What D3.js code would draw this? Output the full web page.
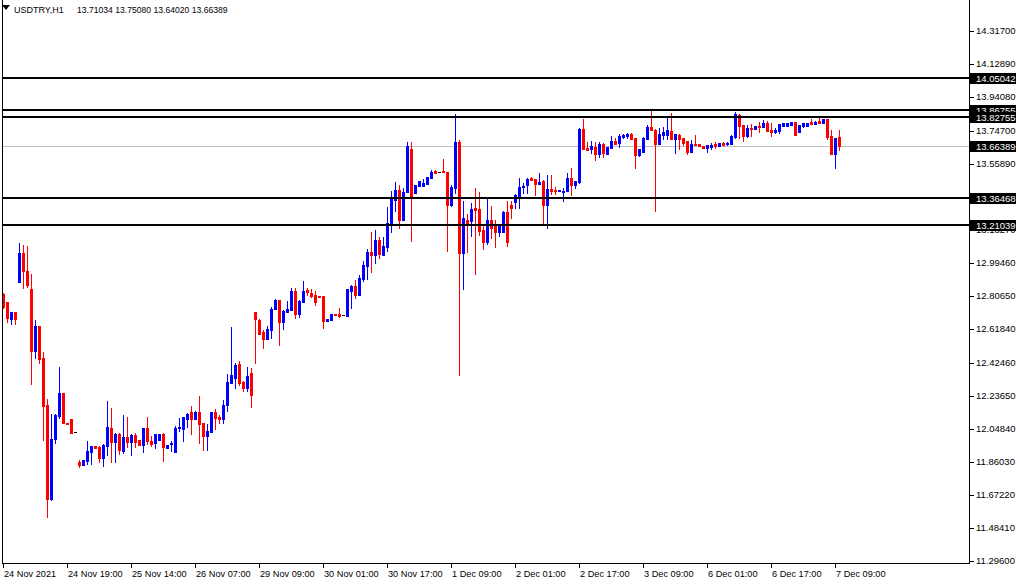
<!DOCTYPE html>
<html><head><meta charset="utf-8">
<script src="https://cdn.jsdelivr.net/npm/d3@7"></script>
<style>
html,body{margin:0;padding:0;background:#fff;overflow:hidden}
svg{display:block}
text{font-family:"Liberation Sans",Arial,sans-serif;font-size:9.5px;fill:#000}
</style></head>
<body>
<svg id="c" width="1020" height="584"></svg>
<script>
const symbolTitle = "USDTRY,H1";
const titleValues = "13.71034 13.75080 13.64020 13.66389";
const opens = [12.818,12.773,12.674,12.716,12.888,13.052,12.951,12.845,12.495,12.636,12.453,12.186,11.651,11.990,12.125,12.254,12.085,12.106,12.032,11.861,
11.844,11.868,11.918,11.952,11.946,11.883,11.952,12.054,11.975,12.020,11.923,12.003,11.975,12.015,11.986,11.958,12.054,11.980,11.969,11.986,
12.020,11.940,11.963,11.918,12.054,12.049,12.106,12.146,12.106,12.146,12.083,12.009,12.032,12.146,12.117,12.106,12.186,12.311,12.339,12.419,
12.317,12.282,12.368,12.716,12.670,12.602,12.562,12.613,12.733,12.784,12.659,12.716,12.727,12.835,12.704,12.773,12.841,12.824,12.813,12.807,
12.807,12.664,12.670,12.704,12.704,12.698,12.693,12.835,12.864,12.813,12.904,12.978,13.058,13.041,13.126,13.041,13.086,13.217,13.354,13.411,
13.240,13.400,13.645,13.394,13.434,13.434,13.445,13.479,13.519,13.514,13.517,13.514,13.326,13.422,13.685,13.052,13.240,13.234,13.308,13.303,
13.183,13.115,13.240,13.217,13.172,13.172,13.286,13.326,13.343,13.377,13.428,13.440,13.479,13.474,13.445,13.462,13.326,13.417,13.411,13.405,
13.401,13.407,13.479,13.441,13.457,13.759,13.650,13.645,13.656,13.616,13.673,13.616,13.650,13.690,13.679,13.713,13.719,13.730,13.707,13.610,
13.628,13.702,13.770,13.753,13.673,13.724,13.724,13.747,13.702,13.724,13.707,13.690,13.628,13.673,13.673,13.662,13.650,13.656,13.673,13.662,
13.679,13.673,13.673,13.713,13.839,13.782,13.719,13.764,13.759,13.776,13.770,13.793,13.753,13.742,13.747,13.776,13.776,13.782,13.799,13.742,
13.776,13.776,13.799,13.787,13.804,13.793,13.816,13.719,13.616,13.71034];
const highs = [12.824,12.773,12.716,12.716,13.107,13.098,13.092,12.932,12.670,12.636,12.488,12.218,12.133,12.134,12.402,12.254,12.085,12.106,12.032,11.872,
11.872,11.980,11.952,11.952,11.952,11.963,12.208,12.170,12.026,12.026,12.129,12.117,12.020,12.026,11.986,12.054,12.117,12.009,12.020,12.020,
12.026,11.958,11.980,12.066,12.111,12.117,12.140,12.180,12.151,12.237,12.083,12.077,12.146,12.163,12.129,12.214,12.362,12.630,12.425,12.436,
12.322,12.402,12.396,12.716,12.676,12.613,12.636,12.744,12.790,12.784,12.727,12.778,12.852,12.852,12.784,12.892,12.852,12.847,12.835,12.807,
12.807,12.676,12.704,12.704,12.738,12.698,12.847,12.870,12.898,12.927,13.006,13.075,13.172,13.183,13.143,13.143,13.314,13.405,13.457,13.440,
13.422,13.685,13.685,13.440,13.462,13.474,13.485,13.525,13.525,13.514,13.588,13.514,13.440,13.844,13.696,13.348,13.274,13.337,13.422,13.400,
13.217,13.360,13.320,13.240,13.212,13.291,13.348,13.348,13.388,13.479,13.451,13.479,13.485,13.474,13.508,13.468,13.497,13.497,13.428,13.411,
13.422,13.508,13.536,13.462,13.764,13.816,13.685,13.690,13.685,13.685,13.679,13.656,13.719,13.707,13.730,13.730,13.736,13.736,13.707,13.645,
13.713,13.782,13.861,13.759,13.764,13.770,13.821,13.850,13.730,13.730,13.707,13.690,13.696,13.724,13.673,13.662,13.668,13.679,13.685,13.679,
13.685,13.685,13.724,13.856,13.844,13.782,13.782,13.787,13.776,13.799,13.810,13.804,13.793,13.764,13.787,13.793,13.793,13.799,13.799,13.782,
13.793,13.793,13.816,13.804,13.821,13.816,13.816,13.753,13.707,13.75080];
const lows = [12.738,12.660,12.649,12.649,12.888,12.854,12.860,12.305,12.455,12.423,11.986,11.549,11.645,11.971,12.113,12.085,12.079,12.028,12.032,11.834,
11.844,11.849,11.849,11.940,11.862,11.838,11.901,11.861,11.861,11.906,11.912,11.948,11.901,11.946,11.958,11.918,11.963,11.952,11.940,11.986,
11.866,11.940,11.923,11.918,12.037,11.980,12.060,12.020,12.106,11.969,11.929,11.929,12.032,12.049,12.083,12.083,12.151,12.311,12.282,12.300,
12.265,12.265,12.174,12.425,12.590,12.510,12.562,12.567,12.733,12.528,12.619,12.716,12.727,12.681,12.687,12.773,12.813,12.801,12.756,12.801,
12.624,12.664,12.670,12.698,12.687,12.698,12.693,12.738,12.795,12.813,12.892,12.904,12.944,12.995,13.023,13.041,13.063,13.172,13.291,13.194,
13.240,13.400,13.120,13.394,13.434,13.434,13.445,13.479,13.508,13.514,13.511,13.063,13.320,13.394,12.357,12.847,13.058,13.149,12.932,13.155,
13.075,13.103,13.137,13.086,13.149,13.172,13.092,13.251,13.308,13.308,13.394,13.394,13.468,13.383,13.445,13.217,13.194,13.388,13.388,13.405,
13.348,13.407,13.383,13.424,13.451,13.646,13.639,13.624,13.582,13.599,13.599,13.616,13.650,13.673,13.656,13.707,13.707,13.702,13.536,13.605,
13.628,13.702,13.753,13.291,13.673,13.702,13.702,13.702,13.622,13.645,13.668,13.616,13.628,13.668,13.662,13.650,13.628,13.645,13.650,13.662,
13.668,13.668,13.673,13.707,13.707,13.690,13.713,13.719,13.759,13.742,13.770,13.747,13.719,13.736,13.736,13.776,13.776,13.782,13.724,13.742,
13.770,13.776,13.787,13.787,13.793,13.793,13.702,13.616,13.536,13.64020];
const closes = [12.746,12.683,12.716,12.674,13.052,12.951,12.870,12.495,12.636,12.449,12.182,11.651,11.992,12.129,12.254,12.085,12.079,12.028,12.032,11.844,
11.872,11.923,11.952,11.940,11.883,11.958,12.060,11.975,12.020,11.929,12.003,11.975,12.015,11.975,11.958,12.054,11.980,11.963,12.020,12.020,
11.946,11.958,11.969,12.054,12.060,12.117,12.134,12.106,12.146,12.077,12.009,12.037,12.146,12.111,12.106,12.186,12.317,12.357,12.414,12.311,
12.282,12.351,12.243,12.676,12.590,12.562,12.619,12.733,12.784,12.659,12.721,12.733,12.835,12.704,12.778,12.835,12.830,12.807,12.773,12.801,
12.664,12.676,12.704,12.698,12.693,12.698,12.847,12.864,12.813,12.909,12.984,13.058,13.041,13.126,13.046,13.092,13.223,13.360,13.411,13.240,
13.400,13.662,13.377,13.440,13.462,13.451,13.485,13.514,13.508,13.514,13.511,13.326,13.428,13.685,13.052,13.251,13.223,13.303,13.297,13.177,
13.115,13.240,13.194,13.172,13.212,13.286,13.115,13.308,13.383,13.428,13.434,13.474,13.468,13.445,13.457,13.326,13.417,13.405,13.405,13.411,
13.407,13.479,13.441,13.462,13.759,13.646,13.639,13.662,13.616,13.673,13.622,13.656,13.690,13.673,13.719,13.724,13.730,13.702,13.610,13.645,
13.707,13.770,13.753,13.673,13.730,13.742,13.753,13.702,13.730,13.702,13.679,13.628,13.673,13.668,13.662,13.650,13.668,13.668,13.662,13.679,
13.668,13.679,13.719,13.844,13.776,13.719,13.764,13.759,13.776,13.770,13.793,13.747,13.742,13.753,13.787,13.793,13.793,13.799,13.724,13.782,
13.793,13.793,13.787,13.799,13.793,13.816,13.713,13.616,13.707,13.66389];
const timeLabels = ["24 Nov 2021","24 Nov 19:00","25 Nov 14:00","26 Nov 07:00","29 Nov 09:00","30 Nov 01:00","30 Nov 17:00","1 Dec 09:00","2 Dec 01:00","2 Dec 17:00","3 Dec 09:00","6 Dec 01:00","6 Dec 17:00","7 Dec 09:00"];
const timeLabelStep = 16;
const priceTicks = [14.31700,14.12890,13.94080,13.74700,13.55890,13.18270,12.99460,12.80650,12.61840,12.42460,12.23650,12.04840,11.86030,11.67220,11.48410,11.29600];
const levelLines = [14.05042,13.86755,13.82755,13.36468,13.21039];
const lastPrice = 13.66389;

const W = 1020, H = 584;
const plotLeft = 2, plotRight = 969, plotBottom = 563;
const N = opens.length;
const svg = d3.select("#c");
const x = d3.scaleLinear().domain([0, N - 1]).range([3, 3 + 4 * (N - 1)]);
const y = d3.scaleLinear().domain([11.296, 14.317]).range([561, 31]);
const fmt = d3.format(".5f");

svg.append("rect").attr("width", W).attr("height", H).attr("fill", "#fff");

// current price line
svg.append("rect").attr("x", plotLeft).attr("width", plotRight - plotLeft)
  .attr("y", Math.round(y(lastPrice))).attr("height", 1).attr("fill", "#c0c0c0");

// candles
const g = svg.append("g").attr("shape-rendering", "crispEdges");
const data = d3.range(N).map(i => ({i, o: opens[i], h: highs[i], l: lows[i], c: closes[i]}));
const col = d => d.c > d.o ? "#0000ff" : (d.c < d.o ? "#ff0000" : "#000000");
g.selectAll("rect.w").data(data).join("rect").attr("class", "w")
  .attr("x", d => Math.round(x(d.i))).attr("width", 1)
  .attr("y", d => Math.round(y(d.h)))
  .attr("height", d => Math.max(1, Math.round(y(d.l)) - Math.round(y(d.h)) + 1))
  .attr("fill", col);
g.selectAll("rect.b").data(data).join("rect").attr("class", "b")
  .attr("x", d => Math.round(x(d.i)) - 1).attr("width", 3)
  .attr("y", d => Math.round(y(Math.max(d.o, d.c))))
  .attr("height", d => Math.max(1, Math.round(y(Math.min(d.o, d.c))) - Math.round(y(Math.max(d.o, d.c))) + 1))
  .attr("fill", col);

// level lines
svg.append("g").attr("shape-rendering", "crispEdges").selectAll("rect").data(levelLines).join("rect")
  .attr("x", plotLeft).attr("width", plotRight - plotLeft)
  .attr("y", d => Math.round(y(d)) - 1).attr("height", 2).attr("fill", "#000");

// frame
const fr = svg.append("g").attr("shape-rendering", "crispEdges");
fr.append("rect").attr("x", plotLeft).attr("y", 0).attr("width", 1).attr("height", plotBottom + 1).attr("fill", "#000");
fr.append("rect").attr("x", plotRight).attr("y", 0).attr("width", 1).attr("height", plotBottom + 1).attr("fill", "#000");
fr.append("rect").attr("x", plotLeft).attr("y", plotBottom).attr("width", plotRight - plotLeft + 1).attr("height", 1).attr("fill", "#000");

// clip regions for labels that sit partly under level boxes
const defs = svg.append("defs");
const boxTop = p => Math.round(y(p)) - 5, boxBot = p => Math.round(y(p)) + 6;
defs.append("clipPath").attr("id", "clipBelow21")
  .append("rect").attr("x", 960).attr("y", boxBot(13.21039)).attr("width", 60).attr("height", 20);
defs.append("clipPath").attr("id", "clipAbove82")
  .append("rect").attr("x", 960).attr("y", boxTop(13.82755) - 20).attr("width", 60).attr("height", 20);

// price axis ticks
const pa = svg.append("g");
priceTicks.forEach(p => {
  const yy = Math.round(y(p));
  pa.append("rect").attr("x", plotRight + 1).attr("y", yy).attr("width", 4).attr("height", 1).attr("fill", "#000").attr("shape-rendering", "crispEdges");
  const t = pa.append("text").attr("x", 976).attr("y", yy).attr("dy", "0.35em").text(fmt(p));
  if (Math.abs(y(p) - y(13.21039)) < 11) t.attr("clip-path", "url(#clipBelow21)");
});
// level labels
levelLines.concat([lastPrice]).forEach(p => {
  const yy = Math.round(y(p));
  pa.append("rect").attr("x", plotRight + 1).attr("y", yy - 5).attr("width", 46).attr("height", 11).attr("fill", "#000").attr("shape-rendering", "crispEdges");
  const t = pa.append("text").attr("x", 976).attr("y", yy + 1).attr("dy", "0.35em").style("fill", "#fff").text(fmt(p));
  if (p === 13.86755) t.attr("clip-path", "url(#clipAbove82)");
});

// time axis
const ta = svg.append("g");
timeLabels.forEach((t, k) => {
  const xx = Math.round(x(k * timeLabelStep));
  ta.append("rect").attr("x", xx).attr("y", plotBottom).attr("width", 1).attr("height", 5).attr("fill", "#000").attr("shape-rendering", "crispEdges");
  ta.append("text").attr("x", xx + 1).attr("y", 577).style("font-size", "9.2px").text(t);
});

// title
svg.append("path").attr("d", "M2,5 L10,5 L6,10 Z").attr("fill", "#000");
svg.append("text").attr("x", 14).attr("y", 13).style("font-size", "9px").text(symbolTitle);
svg.append("text").attr("x", 77).attr("y", 13).style("font-size", "8.6px").text(titleValues);
</script>
</body></html>
